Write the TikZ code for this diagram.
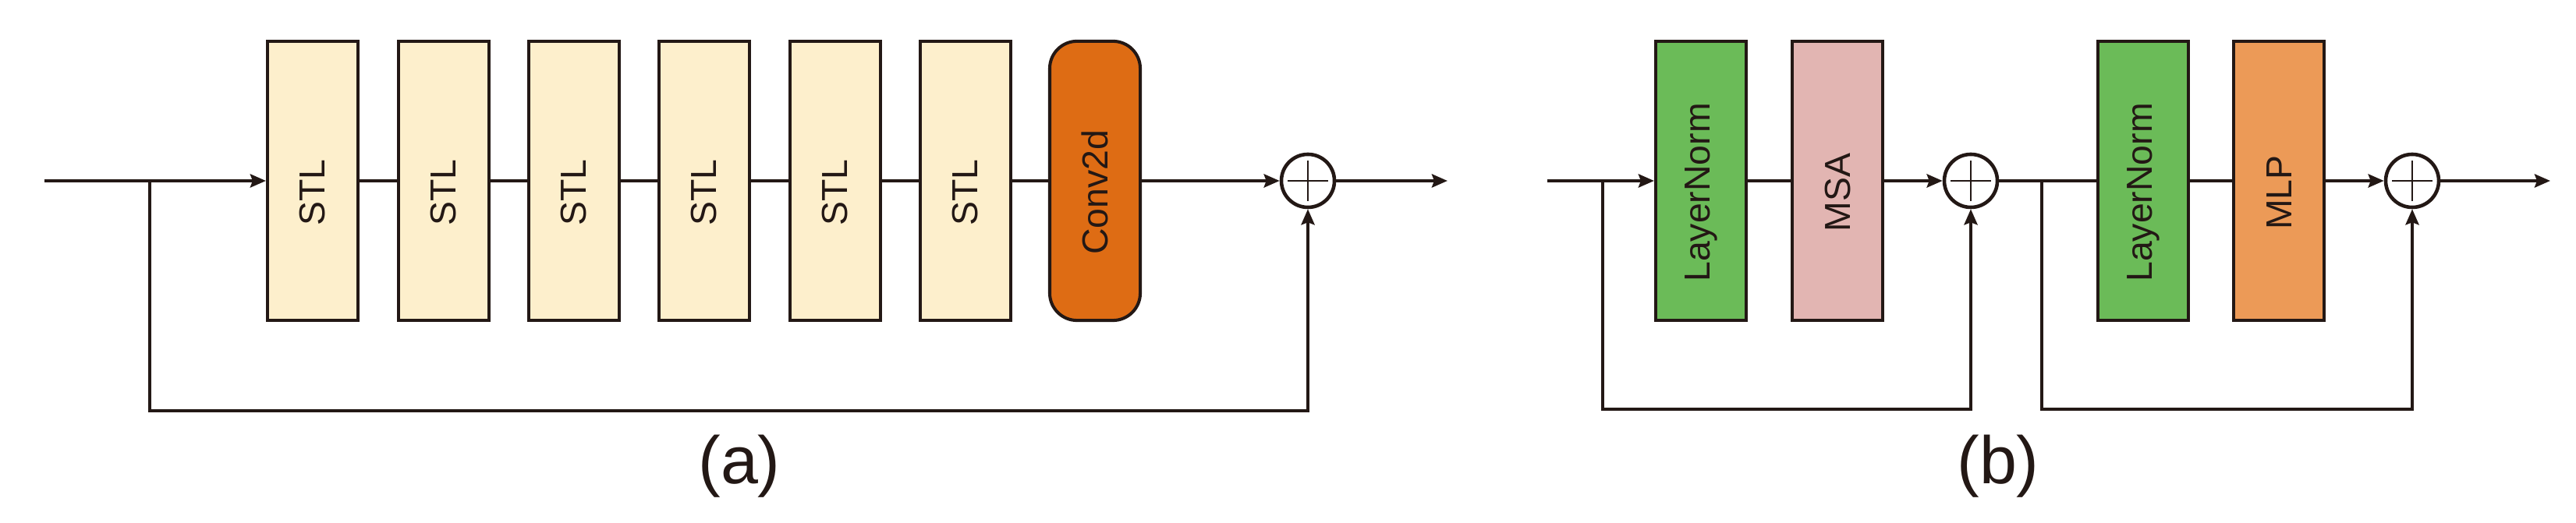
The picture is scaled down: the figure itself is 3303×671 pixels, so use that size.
\documentclass[tikz,border=0pt]{standalone}
\usepackage{fontspec}
\setmainfont{Liberation Sans}
\usetikzlibrary{arrows.meta}
\definecolor{ink}{HTML}{231815}
\definecolor{stlfill}{HTML}{FDEFCC}
\definecolor{convfill}{HTML}{DE6C14}
\definecolor{lnfill}{HTML}{6BBB58}
\definecolor{msafill}{HTML}{E2B5B2}
\definecolor{mlpfill}{HTML}{EC9A57}
\newcommand{\vlab}[1]{\rotatebox{90}{#1\kern0.3cm}}
\tikzset{
  ln/.style={draw=ink, line width=1.15pt},
  arr/.style={-{Stealth[length=0.2cm,width=0.17cm,inset=0.03cm]}},
  blk/.style={draw=ink, line width=1.15pt, minimum width=1.16cm, minimum height=3.58cm,
              inner sep=0pt, text=ink, font=\fontsize{13.2}{15}\selectfont},
  stlbox/.style={blk, fill=stlfill},
  convbox/.style={blk, fill=convfill, rounded corners=0.35cm},
  lnbox/.style={blk, fill=lnfill},
  msabox/.style={blk, fill=msafill},
  mlpbox/.style={blk, fill=mlpfill},
  plusnode/.style={circle, draw=ink, line width=1.3pt, fill=white, minimum size=0.68cm, inner sep=0pt,
    path picture={
      \draw[ink, line width=0.75pt] ([xshift=-0.26cm]path picture bounding box.center) -- ([xshift=0.26cm]path picture bounding box.center);
      \draw[ink, line width=0.75pt] ([yshift=-0.26cm]path picture bounding box.center) -- ([yshift=0.26cm]path picture bounding box.center);
    }},
  captxt/.style={text=ink, font=\fontsize{24.5}{28}\selectfont, inner sep=0pt}
}
\begin{document}
\begin{tikzpicture}[x=0.01cm, y=-0.01cm]
\useasboundingbox (0,0) rectangle (3303,671);
% ---------- (a) ----------
\node[stlbox] (s1) at (401,232) {\vlab{STL}};
\node[stlbox] (s2) at (569,232) {\vlab{STL}};
\node[stlbox] (s3) at (736,232) {\vlab{STL}};
\node[stlbox] (s4) at (903,232) {\vlab{STL}};
\node[stlbox] (s5) at (1071,232) {\vlab{STL}};
\node[stlbox] (s6) at (1238,232) {\vlab{STL}};
\node[convbox] (conv) at (1404,232) {\vlab{Conv2d}};
\node[plusnode] (pa) at (1677,232) {};
\coordinate (ina) at (57,232);
\coordinate (bra) at (192,232);
\coordinate (fba) at (192,527);
\coordinate (outa) at (1856,232);
\draw[ln,arr] (ina) -- (s1.west);
\draw[ln] (s1.east) -- (s2.west);
\draw[ln] (s2.east) -- (s3.west);
\draw[ln] (s3.east) -- (s4.west);
\draw[ln] (s4.east) -- (s5.west);
\draw[ln] (s5.east) -- (s6.west);
\draw[ln] (s6.east) -- (conv.west);
\draw[ln,arr] (conv.east) -- (pa.west);
\draw[ln,arr] (pa.east) -- (outa);
\draw[ln,arr] (bra) -- (fba) -| (pa.south);
\node[captxt] (capa) at (948,598) {(a)};
% ---------- (b) ----------
\node[lnbox] (ln1) at (2181,232) {\vlab{LayerNorm}};
\node[msabox] (msa) at (2356,232) {\vlab{MSA}};
\node[plusnode] (pb1) at (2527,232) {};
\node[lnbox] (ln2) at (2748,232) {\vlab{LayerNorm}};
\node[mlpbox] (mlp) at (2922,232) {\vlab{MLP}};
\node[plusnode] (pb2) at (3093,232) {};
\coordinate (inb) at (1984,232);
\coordinate (brb1) at (2055,232);
\coordinate (fbb1) at (2055,525);
\coordinate (brb2) at (2618,232);
\coordinate (fbb2) at (2618,525);
\coordinate (outb) at (3270,232);
\draw[ln,arr] (inb) -- (ln1.west);
\draw[ln] (ln1.east) -- (msa.west);
\draw[ln,arr] (msa.east) -- (pb1.west);
\draw[ln] (pb1.east) -- (ln2.west);
\draw[ln] (ln2.east) -- (mlp.west);
\draw[ln,arr] (mlp.east) -- (pb2.west);
\draw[ln,arr] (pb2.east) -- (outb);
\draw[ln,arr] (brb1) -- (fbb1) -| (pb1.south);
\draw[ln,arr] (brb2) -- (fbb2) -| (pb2.south);
\node[captxt] (capb) at (2562,598) {(b)};
\end{tikzpicture}
\end{document}
